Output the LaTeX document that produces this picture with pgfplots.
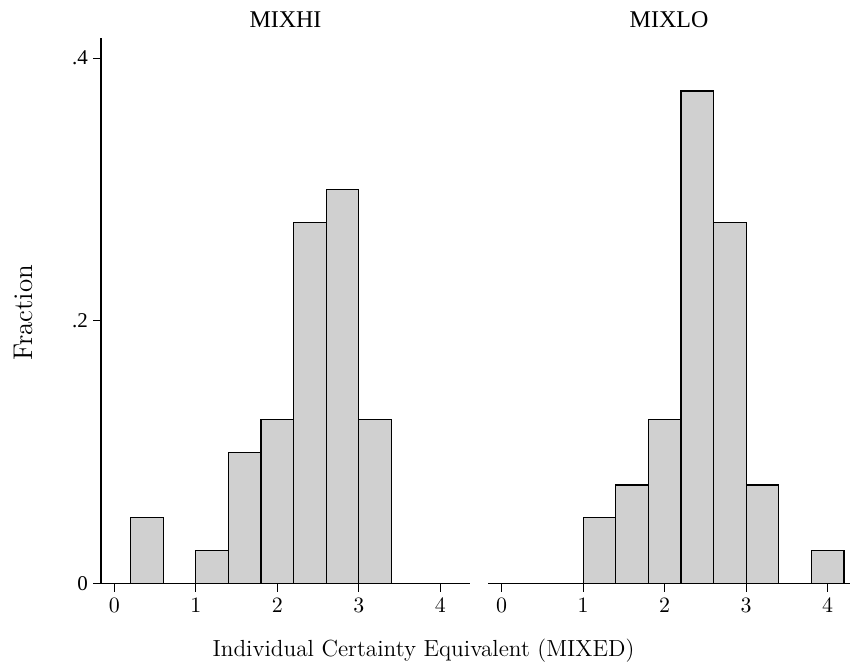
\documentclass[border=0pt]{standalone}
\usepackage{fontspec}
\newfontfamily\timesfont{Liberation Serif}
\usepackage{pgfplots}
\pgfplotsset{compat=1.18}
\definecolor{barfill}{RGB}{208,208,208}

\pgfplotsset{histo/.style={
  scale only axis,
  height=272.9pt,
  ymin=0, ymax=0.4156,
  axis x line*=bottom,
  axis line style={-, line width=0.6pt, black},
  xtick={0,1,2,3,4},
  tick align=outside,
  major tick length=4pt,
  tick style={black, line width=0.6pt},
  xticklabel style={font=\fontsize{10.5}{12}\selectfont},
  title style={font=\timesfont\fontsize{12}{14}\selectfont, at={(0.5,1)}, anchor=base, yshift=-1.15pt},
  ybar, bar width=0.4, bar shift=0pt,
  clip=false,
}}

\begin{document}
\begin{tikzpicture}
\path[use as bounding box] (0,0) rectangle (425pt,335.5pt);

\begin{axis}[histo,
  at={(50.5pt,43.75pt)}, anchor=south west,
  width=184.5pt,
  xmin=-0.163, xmax=4.364,
  axis y line*=left,
  ytick={0,0.2,0.4}, yticklabels={0,.2,.4},
  yticklabel style={font=\timesfont\fontsize{10.5}{12}\selectfont, xshift=1pt},
  title={MIXHI},
]
\addplot[fill=barfill, draw=black, line width=0.6pt] coordinates {
  (0.4,0.05) (1.2,0.025) (1.6,0.1) (2.0,0.125) (2.4,0.275) (2.8,0.3) (3.2,0.125)
};
\end{axis}

\begin{axis}[histo,
  at={(244pt,43.75pt)}, anchor=south west,
  width=181pt,
  xmin=-0.168, xmax=4.274,
  axis y line=none,
  title={MIXLO},
]
\addplot[fill=barfill, draw=black, line width=0.6pt] coordinates {
  (1.2,0.05) (1.6,0.075) (2.0,0.125) (2.4,0.375) (2.8,0.275) (3.2,0.075) (4.0,0.025)
};
\end{axis}

\node[anchor=base, font=\fontsize{11.65}{14}\selectfont] at (211.75pt,7.15pt) {Individual Certainty Equivalent (MIXED)};
\node[rotate=90, anchor=base, font=\fontsize{13.5}{16}\selectfont] at (16pt,179pt) {Fraction};
\end{tikzpicture}
\end{document}
